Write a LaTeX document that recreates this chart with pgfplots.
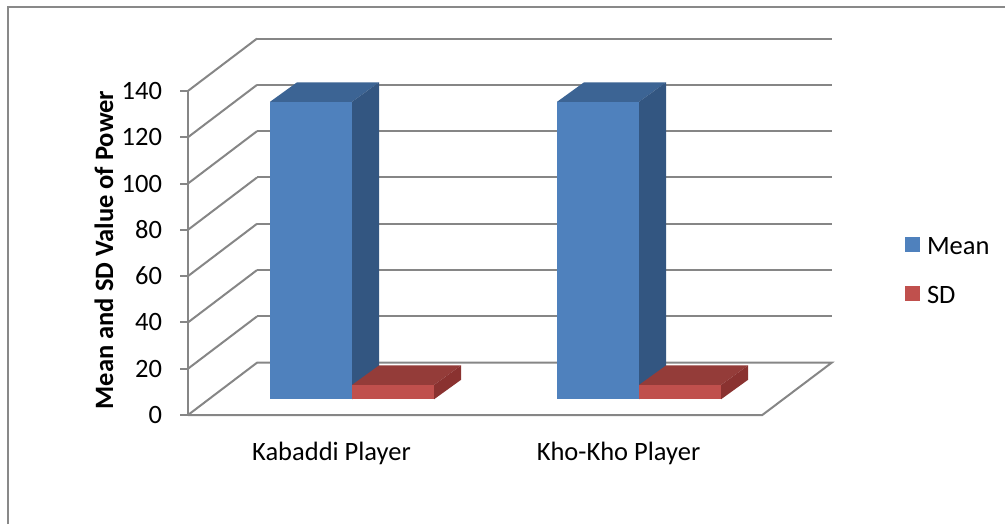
\documentclass[border=0pt]{standalone}
\usepackage{fontspec}
\setmainfont{Carlito}
\usepackage{pgfplots}
\pgfplotsset{compat=1.18}
\definecolor{gridgray}{RGB}{134,134,134}
\definecolor{bordergray}{RGB}{137,137,137}
\definecolor{meanfront}{HTML}{4F81BD}
\definecolor{meantop}{HTML}{3C6494}
\definecolor{meanside}{HTML}{335681}
\definecolor{sdfront}{HTML}{C0504D}
\definecolor{sdtop}{HTML}{943C39}
\definecolor{sdside}{HTML}{8A3230}
\newcommand{\cf}{\fontsize{13.25}{15.9}\selectfont}
\begin{document}
\begin{tikzpicture}
\begin{axis}[
  x=0.5pt, y=1.1575pt,
  xmin=188, xmax=1005, ymin=-47.08, ymax=179.27,
  clip=false,
  axis line style={draw=none},
  every axis plot/.append style={mark=none},
  ytick={0,20,40,60,80,100,120,140}, ytick pos=left,
  tick align=outside, major tick length=4pt,
  y tick style={draw=gridgray, line width=1pt},
  xtick={331.5,618.5}, xticklabels={Kabaddi Player, Kho-Kho Player},
  x tick style={draw=none},
  /pgf/number format/assume math mode=true,
  y tick label style={font=\cf, xshift=-5.5pt},
  x tick label style={font=\cf, anchor=base, yshift=36pt},
  ylabel={\bfseries Mean and SD Value of Power},
  ylabel style={font=\cf, at={(axis description cs:-0.1028,0.5229)}, anchor=center},
  legend style={font=\cf, at={(axis description cs:0.8776,0.4847)}, anchor=west,
    draw=none, fill=none, inner sep=0pt, outer sep=0pt, row sep=16pt, column sep=3.5pt,
    nodes={inner sep=0pt, text height=8.5pt, text depth=0pt}},
  legend cell align=left,
  legend image code/.code={\fill[#1] (0pt,-3.25pt) rectangle (7.5pt,4.25pt);},
]
% chart border (top and left edges visible)
\addplot[draw=bordergray, line width=1pt, forget plot] coordinates {(8,-47.08)(8,176.24)(1005,176.24)};
% back wall gridlines
\addplot[draw=gridgray, line width=1pt, forget plot] coordinates {(257,42.6)(831.7,42.6)};
\addplot[draw=gridgray, line width=1pt, forget plot] coordinates {(257,62.6)(831.7,62.6)};
\addplot[draw=gridgray, line width=1pt, forget plot] coordinates {(257,82.6)(831.7,82.6)};
\addplot[draw=gridgray, line width=1pt, forget plot] coordinates {(257,102.6)(831.7,102.6)};
\addplot[draw=gridgray, line width=1pt, forget plot] coordinates {(257,122.6)(831.7,122.6)};
\addplot[draw=gridgray, line width=1pt, forget plot] coordinates {(257,142.6)(831.7,142.6)};
\addplot[draw=gridgray, line width=1pt, forget plot] coordinates {(257,162.6)(831.7,162.6)};
% side wall diagonals
\addplot[draw=gridgray, line width=1pt, forget plot] coordinates {(188,20)(257,42.6)};
\addplot[draw=gridgray, line width=1pt, forget plot] coordinates {(188,40)(257,62.6)};
\addplot[draw=gridgray, line width=1pt, forget plot] coordinates {(188,60)(257,82.6)};
\addplot[draw=gridgray, line width=1pt, forget plot] coordinates {(188,80)(257,102.6)};
\addplot[draw=gridgray, line width=1pt, forget plot] coordinates {(188,100)(257,122.6)};
\addplot[draw=gridgray, line width=1pt, forget plot] coordinates {(188,120)(257,142.6)};
\addplot[draw=gridgray, line width=1pt, forget plot] coordinates {(188,140)(257,162.6)};
% vertical axis line
\addplot[draw=gridgray, line width=1pt, forget plot] coordinates {(188,0)(188,140)};
% floor
\addplot[draw=gridgray, line width=1pt, forget plot] coordinates {(188,0)(257,22.6)(831.7,22.6)(762.3,0)(188,0)};
% Kabaddi Player: Mean = 128.5
\addplot[fill=meanfront, draw=none, forget plot] coordinates {(270,6.78)(352,6.78)(352,135.28)(270,135.28)};
\addplot[fill=meantop, draw=none, forget plot] coordinates {(270,135.28)(352,135.28)(379,143.70)(297,143.70)};
\addplot[fill=meanside, draw=none, forget plot] coordinates {(352,6.78)(379,15.20)(379,143.70)(352,135.28)};
% Kabaddi Player: SD = 6.2
\addplot[fill=sdfront, draw=none, forget plot] coordinates {(352,6.78)(434,6.78)(434,12.98)(352,12.98)};
\addplot[fill=sdtop, draw=none, forget plot] coordinates {(352,12.98)(434,12.98)(461,21.40)(379,21.40)};
\addplot[fill=sdside, draw=none, forget plot] coordinates {(434,6.78)(461,15.20)(461,21.40)(434,12.98)};
% Kho-Kho Player: Mean = 128.5
\addplot[fill=meanfront, draw=none, forget plot] coordinates {(557,6.78)(639,6.78)(639,135.28)(557,135.28)};
\addplot[fill=meantop, draw=none, forget plot] coordinates {(557,135.28)(639,135.28)(666,143.70)(584,143.70)};
\addplot[fill=meanside, draw=none, forget plot] coordinates {(639,6.78)(666,15.20)(666,143.70)(639,135.28)};
% Kho-Kho Player: SD = 6.2
\addplot[fill=sdfront, draw=none, forget plot] coordinates {(639,6.78)(721,6.78)(721,12.98)(639,12.98)};
\addplot[fill=sdtop, draw=none, forget plot] coordinates {(639,12.98)(721,12.98)(748,21.40)(666,21.40)};
\addplot[fill=sdside, draw=none, forget plot] coordinates {(721,6.78)(748,15.20)(748,21.40)(721,12.98)};
\addlegendimage{fill=meanfront, draw=none}
\addlegendentry{Mean}
\addlegendimage{fill=sdfront, draw=none}
\addlegendentry{SD}
\coordinate (BL) at (axis cs:0,-47.08);
\coordinate (TR) at (axis cs:1005,179.27);
\end{axis}
\pgfresetboundingbox
\path (BL) rectangle (TR);
\end{tikzpicture}
\end{document}
